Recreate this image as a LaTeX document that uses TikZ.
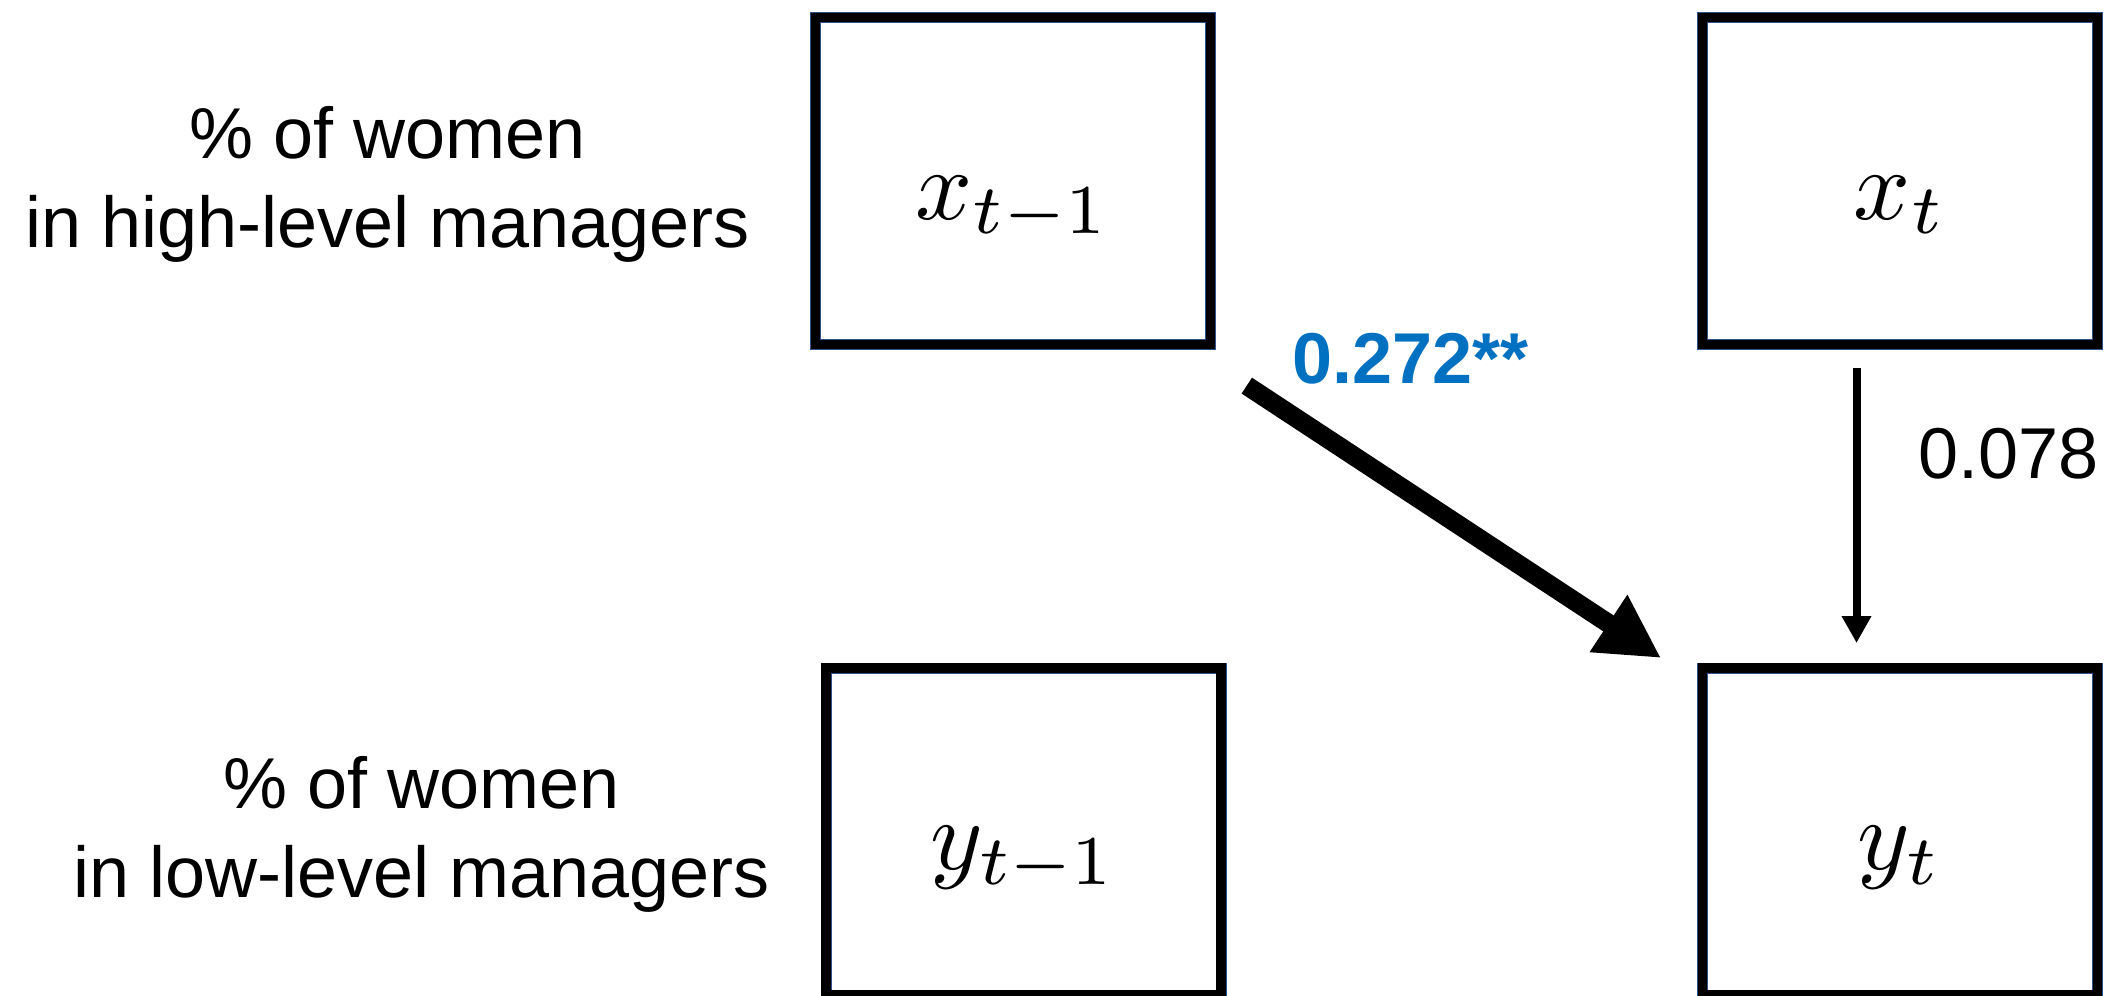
\documentclass[tikz,border=0pt]{standalone}
\usepackage{graphicx}
\usepackage{fontspec}
\newfontfamily\labelfont{Liberation Sans}
\usetikzlibrary{arrows.meta,positioning,calc}
\definecolor{coefblue}{RGB}{0,112,192}
\definecolor{boxedge}{RGB}{47,82,143}
\newcommand{\bigmath}[1]{\scalebox{5}{$#1$}}

\begin{document}
\begin{tikzpicture}[
  x=0.5pt,y=-0.5pt,
  node distance=161.75pt and 246pt,
  var/.style={draw=boxedge,line width=0.4pt,double=black,double distance=4.7pt,
    outer sep=0pt,minimum width=197.5pt,minimum height=163.5pt,
    text height=42pt,text depth=4pt},
  tag/.style={inner sep=0pt,align=center,font=\labelfont\fontsize{36pt}{44.5pt}\selectfont},
  coef/.style={inner sep=0pt,font=\labelfont\fontsize{36pt}{44.5pt}\selectfont},
  effect/.style={-{Triangle[length=31.5pt,width=32pt]},line width=9.5pt,
    shorten <=26.5pt,shorten >=20pt},
  weak/.style={-{Triangle[length=13.5pt,width=14pt]},line width=4pt,
    shorten <=11.75pt,shorten >=12.5pt}
]
  \useasboundingbox (0,0) rectangle (2112,995);

  \node[var] (xprev) at (1013,181) {\bigmath{x_{t-1}}};
  \node[var,right=of xprev] (xcur) {\bigmath{x_t}};
  \node[var,below=of xcur] (ycur) {\bigmath{y_t}};
  \node[var,left=240.75pt of ycur] (yprev) {\bigmath{y_{t-1}}};

  \node[tag,left=32.75pt of xprev,yshift=-1.5pt] (hilab) {\% of women\\in high-level managers};
  \node[tag,left=28pt of yprev,yshift=-1.5pt] (lolab) {\% of women\\in low-level managers};

  \draw[effect] ($(xprev.south east)+(-8,12)$) --
    node[coef,pos=0.09,anchor=base west,xshift=18pt,yshift=1.3pt,
      text=coefblue,font=\labelfont\bfseries\fontsize{36pt}{44.5pt}\selectfont] (bhigh) {0.272**}
    ($(ycur.north west)+(-8,12)$);
  \draw[weak] ($(xcur.south)+(-43.5,0)$) --
    node[coef,pos=0.4127,anchor=base west,xshift=28.75pt] (bcross) {0.078}
    ($(ycur.north)+(-43.5,0)$);
\end{tikzpicture}
\end{document}
